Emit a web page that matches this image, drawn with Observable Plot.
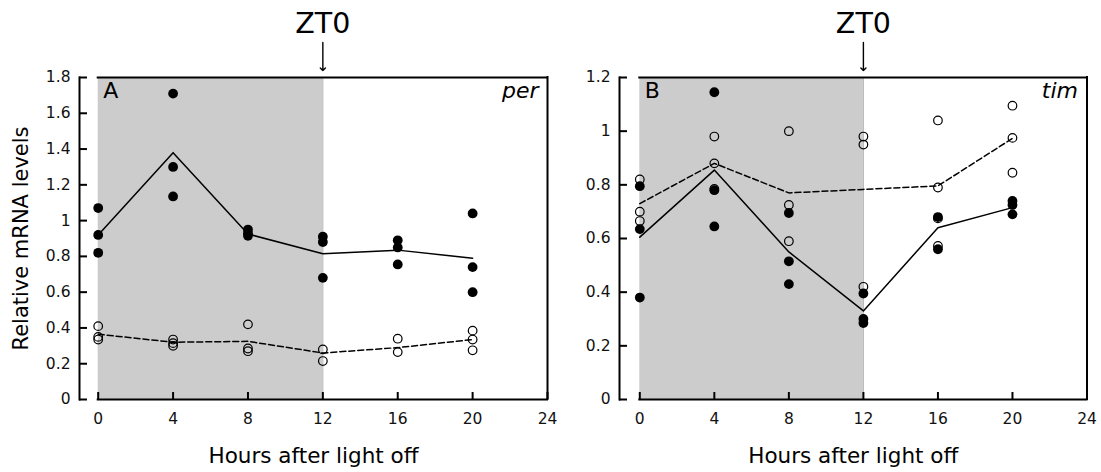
<!DOCTYPE html>
<html><head><meta charset="utf-8">
<script src="https://cdn.jsdelivr.net/npm/d3@7"></script>
<script src="https://cdn.jsdelivr.net/npm/@observablehq/plot@0.6"></script>
<style>
body{margin:0;background:#fff;}
#wrap{position:relative;width:1101px;height:472px;overflow:hidden;}
#wrap svg{position:absolute;top:0;}
</style></head><body><div id="wrap"></div>
<script>
// ---- data ----
const hours = [0, 4, 8, 12, 16, 20];
const xTicks = [0, 4, 8, 12, 16, 20, 24];
const xMax = 24;
const darkPeriod = [0, 12];
const zt0Hour = 12;
const perYTicks = [0, 0.2, 0.4, 0.6, 0.8, 1, 1.2, 1.4, 1.6, 1.8];
const timYTicks = [0, 0.2, 0.4, 0.6, 0.8, 1, 1.2];

// per: filled circles (solid line) and open circles (dashed line)
const perFilled = [[1.07, 0.92, 0.82], [1.71, 1.30, 1.135], [0.95, 0.93, 0.915], [0.91, 0.88, 0.68], [0.89, 0.85, 0.755], [1.04, 0.74, 0.60]];
const perOpen = [[0.41, 0.35, 0.335], [0.335, 0.315, 0.30], [0.42, 0.285, 0.27], [0.28, 0.215], [0.34, 0.265], [0.385, 0.335, 0.275]];
const perFilledMean = [0.92, 1.38, 0.925, 0.815, 0.835, 0.79];
const perOpenMean = [0.365, 0.32, 0.325, 0.26, 0.29, 0.335];

// tim
const timFilled = [[0.795, 0.635, 0.38], [1.145, 0.78, 0.645], [0.695, 0.515, 0.43], [0.395, 0.30, 0.285], [0.68, 0.56], [0.74, 0.725, 0.69]];
const timOpen = [[0.82, 0.70, 0.665], [0.98, 0.88, 0.785], [1.0, 0.725, 0.59], [0.98, 0.95, 0.42], [1.04, 0.79, 0.675, 0.572], [1.095, 0.975, 0.845]];
const timFilledMean = [0.605, 0.855, 0.55, 0.33, 0.64, 0.715];
const timOpenMean = [0.73, 0.88, 0.77, 0.783, 0.796, 0.973];

const FONT = '"DejaVu Sans", sans-serif';

function rowsOf(nested) {
  return nested.flatMap((vals, i) => vals.map(v => ({hour: hours[i], value: v})));
}
function meanRows(vals) {
  return vals.map((v, i) => ({hour: hours[i], value: v}));
}

function panel(cfg) {
  const yMax = cfg.yTicks[cfg.yTicks.length - 1];
  const marks = [
    Plot.rect([darkPeriod], {x1: d => d[0], x2: d => d[1], y1: 0, y2: yMax, fill: "#cccccc"}),
    Plot.ruleX([darkPeriod[1]], {y1: 0, y2: yMax, stroke: "#b5b5b5", strokeWidth: 1}),
    Plot.line(meanRows(cfg.openMean), {x: "hour", y: "value", stroke: "black", strokeWidth: 1.5, strokeDasharray: "6,3"}),
    Plot.line(meanRows(cfg.filledMean), {x: "hour", y: "value", stroke: "black", strokeWidth: 1.5}),
    Plot.dot(rowsOf(cfg.open), {x: "hour", y: "value", r: 4.3, fill: "none", stroke: "black", strokeWidth: 1.2}),
    Plot.dot(rowsOf(cfg.filled), {x: "hour", y: "value", r: 4.9, fill: "black", stroke: "none"}),
    // frame pieces
    Plot.ruleY([yMax], {x1: 0, x2: xMax, stroke: "black", strokeWidth: 2, strokeLinecap: "square"}),
    Plot.ruleY([0], {x1: 0, x2: xMax, stroke: "black", strokeWidth: 2, strokeLinecap: "square"}),
    Plot.ruleX([xMax], {y1: 0, y2: yMax, stroke: "black", strokeWidth: 2, strokeLinecap: "square"}),
    Plot.frame({anchor: "left", stroke: "black", strokeWidth: 2}),
    Plot.axisY(cfg.yTicks, {tickSize: -8, tickPadding: 17, strokeWidth: 2, fontSize: 15.5, label: null, tickFormat: d3.format("~g"), fill: "#111"}),
    Plot.axisX(xTicks, {tickSize: -7, tickPadding: 20, strokeWidth: 2, fontSize: 15.5, label: null, fill: "#111"}),
    // annotations
    Plot.text(["Hours after light off"], {text: d => d, frameAnchor: "bottom", dy: 57, fontSize: 21.5, lineAnchor: "middle", textAnchor: "middle"}),
    Plot.text(["ZT0"], {x: () => zt0Hour, text: d => d, frameAnchor: "top", dy: -54, fontSize: 28.5, lineAnchor: "middle"}),
    Plot.vector([zt0Hour], {x: d => d, frameAnchor: "top", dy: -7, length: 28, rotate: 180, anchor: "end", r: 1.6, stroke: "black", strokeWidth: 1.4}),
    Plot.text([cfg.label], {x: () => 0, text: d => d, frameAnchor: "top", dy: 13.5, dx: 5, textAnchor: "start", fontSize: 22, lineAnchor: "middle"}),
    Plot.text([cfg.gene], {x: () => xMax, text: d => d, frameAnchor: "top", dy: 13.5, dx: -9, textAnchor: "end", fontSize: 22, fontStyle: "italic", lineAnchor: "middle"})
  ];
  if (cfg.yLabel) {
    marks.push(Plot.text([cfg.yLabel], {text: d => d, frameAnchor: "left", dx: -58, rotate: -90, fontSize: 21, lineAnchor: "middle", textAnchor: "middle"}));
  }
  const svg = Plot.plot({
    width: cfg.width, height: 472,
    marginLeft: cfg.marginLeft, marginRight: cfg.marginRight, marginTop: 77, marginBottom: 73,
    style: {fontFamily: FONT, background: "transparent", overflow: "visible"},
    x: {domain: [0, xMax], range: cfg.xRange, label: null},
    y: {domain: [0, yMax], label: null},
    marks
  });
  svg.style.left = cfg.left + "px";
  return svg;
}

const wrap = document.getElementById("wrap");
wrap.appendChild(panel({
  left: 0, width: 550, marginLeft: 79, marginRight: 3, xRange: [97.7, 547],
  yTicks: perYTicks, filled: perFilled, open: perOpen, filledMean: perFilledMean, openMean: perOpenMean,
  label: "A", gene: "per", yLabel: "Relative mRNA levels"
}));
wrap.appendChild(panel({
  left: 550, width: 551, marginLeft: 69, marginRight: 14.5, xRange: [89.3, 536.5],
  yTicks: timYTicks, filled: timFilled, open: timOpen, filledMean: timFilledMean, openMean: timOpenMean,
  label: "B", gene: "tim", yLabel: null
}));
</script></body></html>
